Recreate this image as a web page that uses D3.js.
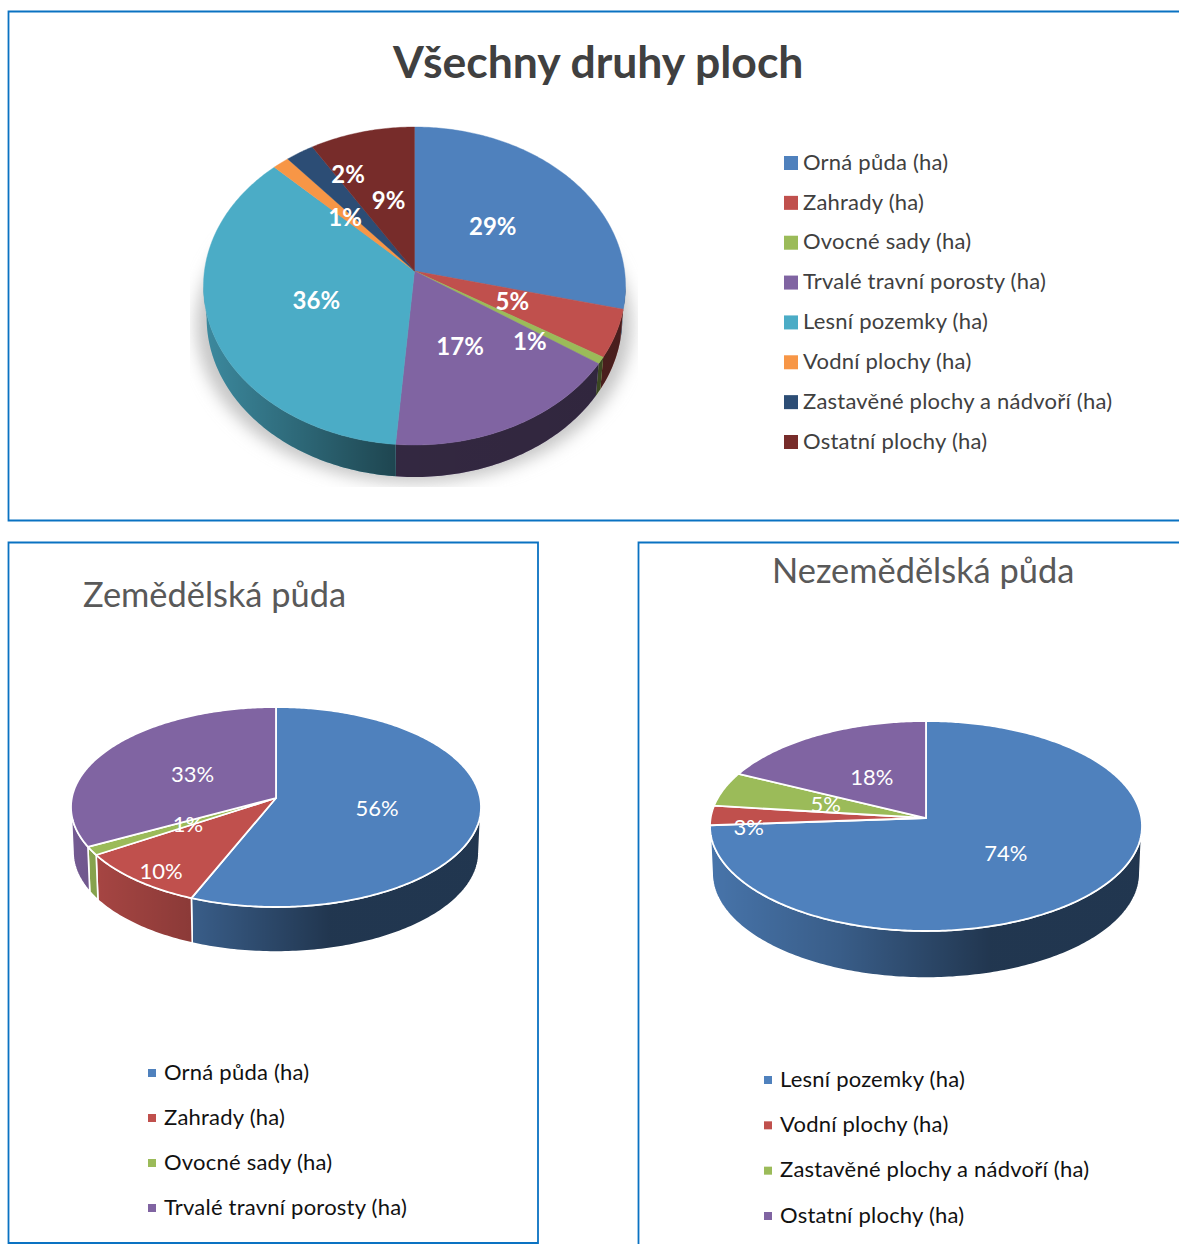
<!DOCTYPE html>
<html>
<head>
<meta charset="utf-8">
<script src="https://cdnjs.cloudflare.com/ajax/libs/d3/7.8.5/d3.min.js"></script>
<style>
  html, body { margin: 0; padding: 0; background: #fff; overflow: hidden; }
  text { font-family: Lato, "Open Sans", sans-serif; }
</style>
</head>
<body>
<div id="chart"></div>
<script>
// data
var allCategories = ["Orná půda (ha)", "Zahrady (ha)", "Ovocné sady (ha)", "Trvalé travní porosty (ha)",
  "Lesní pozemky (ha)", "Vodní plochy (ha)", "Zastavěné plochy a nádvoří (ha)", "Ostatní plochy (ha)"];
var allValues = [28.8, 4.9, 0.7, 16.9, 36.1, 1.4, 2.4, 8.8];
var allColors = ["#4f81bd", "#c0504d", "#9bbb59", "#8064a2", "#4bacc6", "#f79646", "#2c4d75", "#772c2a"];

var farmCategories = ["Orná půda (ha)", "Zahrady (ha)", "Ovocné sady (ha)", "Trvalé travní porosty (ha)"];
var farmValues = [56.2, 9.6, 1.4, 32.8];

var otherCategories = ["Lesní pozemky (ha)", "Vodní plochy (ha)", "Zastavěné plochy a nádvoří (ha)", "Ostatní plochy (ha)"];
var otherValues = [73.9, 3.0, 5.3, 17.8];

var smallColors = ["#4f81bd", "#c0504d", "#9bbb59", "#8064a2"];

var width = 1179, height = 1244;
var svg = d3.select("#chart").append("svg").attr("width", width).attr("height", height);
var defs = svg.append("defs");

// frames
var frameColor = "#0a72c2";
function frame(path) {
  svg.append("path").attr("d", path).attr("fill", "none").attr("stroke", frameColor).attr("stroke-width", 1.8);
}
frame("M1185,11.5H8.5V520.5H1185");
frame("M538,542.5H8.5V1243H538Z");
frame("M1185,542.5H638.5V1250");

var fmt = d3.format(".0%");

function drawPie(o) {
  var x = d3.scaleLinear().domain([-1, 1]).range([o.cx - o.rx, o.cx + o.rx]);
  var y = d3.scaleLinear().domain([-1, 1]).range([o.cy - o.ry, o.cy + o.ry]);
  var t = o.tilt, s = Math.sqrt(1 - t * t);
  var total = d3.sum(o.values);
  var arcs = d3.pie().sort(null)(o.values);
  var g = svg.append("g");

  // circle -> ellipse with the centre pushed back, like the perspective in the picture
  function proj(a, r) {
    var px = r * Math.sin(a), py = -r * Math.cos(a), w = 1 + t * py;
    return [x(px * s / w), y((py + t) / w)];
  }
  function lower(p, k) {
    return [o.cx + (p[0] - o.cx) * k, p[1] + o.depth];
  }
  var line = d3.line();

  // side shading: dark overlay left to right
  var gid = "shade" + o.id;
  var grad = defs.append("linearGradient").attr("id", gid).attr("gradientUnits", "userSpaceOnUse")
    .attr("x1", o.cx - o.rx).attr("x2", o.cx + o.rx).attr("y1", 0).attr("y2", 0);
  o.shade.forEach(function(d) {
    grad.append("stop").attr("offset", d[0]).attr("stop-color", "#000").attr("stop-opacity", d[1]);
  });

  // visible part of the rim runs between these two angles
  var a0 = Math.acos(t), a1 = 2 * Math.PI - a0;
  var sides = g.append("g");
  arcs.forEach(function(d, i) {
    var from = Math.max(d.startAngle, a0), to = Math.min(d.endAngle, a1);
    if (to <= from) return;
    var n = Math.max(2, Math.ceil((to - from) * 60));
    var top = d3.range(n + 1).map(function(k) { return proj(from + (to - from) * k / n, 1); });
    var pts = top.concat(top.slice().reverse().map(function(p) { return lower(p, o.shrink); }));
    var dd = line(pts) + "Z";
    sides.append("path").attr("d", dd).attr("fill", o.colors[i]);
    sides.append("path").attr("d", dd).attr("fill", "url(#" + gid + ")")
      .attr("stroke", o.edge || "none").attr("stroke-width", o.edge ? 1.6 : 0);
  });

  // top face
  arcs.forEach(function(d, i) {
    var n = Math.max(2, Math.ceil((d.endAngle - d.startAngle) * 80));
    var pts = d3.range(n + 1).map(function(k) {
      return proj(d.startAngle + (d.endAngle - d.startAngle) * k / n, 1);
    });
    pts.unshift(proj(0, 0));
    g.append("path").attr("d", line(pts) + "Z").attr("fill", o.colors[i])
      .attr("stroke", o.edge || o.colors[i]).attr("stroke-width", o.edge ? 1.8 : 0.4)
      .attr("stroke-linejoin", "round");
  });

  // labels sit on the slice's middle radius, a few pushed along it
  arcs.forEach(function(d, i) {
    var p = proj((d.startAngle + d.endAngle) / 2, o.labelR[i]);
    var nudge = o.labelNudge[i] || [0, 0];
    g.append("text").attr("x", p[0] + nudge[0]).attr("y", p[1] + nudge[1]).attr("dy", "0.36em")
      .attr("text-anchor", "middle").attr("fill", "#fff")
      .attr("font-size", o.labelSize).attr("font-weight", o.labelWeight)
      .text(fmt(d.value / total));
  });
}

function legend(names, colors, o) {
  var yScale = d3.scalePoint().domain(names).range([o.y0, o.y1]);
  names.forEach(function(name, i) {
    var yy = yScale(name);
    svg.append("rect").attr("x", o.x).attr("y", yy - o.box / 2).attr("width", o.box).attr("height", o.box)
      .attr("fill", colors[i]);
    svg.append("text").attr("x", o.tx).attr("y", yy - 1).attr("dy", "0.35em")
      .attr("font-size", o.size).attr("fill", o.color).style("letter-spacing", o.spacing)
      .text(name);
  });
}

function title(text, x, y, size, weight, color) {
  svg.append("text").attr("x", x).attr("y", y).attr("font-size", size).attr("font-weight", weight)
    .attr("fill", color).text(text);
}

// soft shadow under the big pie
var blur = defs.append("filter").attr("id", "soft").attr("x", "-20%").attr("y", "-20%").attr("width", "140%").attr("height", "140%");
blur.append("feGaussianBlur").attr("stdDeviation", 8);
defs.append("clipPath").attr("id", "shadowClip").append("rect")
  .attr("x", 190).attr("y", 200).attr("width", 448).attr("height", 287);
svg.append("g").attr("clip-path", "url(#shadowClip)").append("ellipse")
  .attr("cx", 414).attr("cy", 325).attr("rx", 218).attr("ry", 158)
  .attr("fill", "#c6c6c6").attr("filter", "url(#soft)");

drawPie({
  id: "all", cx: 414.5, cy: 286, rx: 211, ry: 159, tilt: -0.094, depth: 32, shrink: 0.985,
  values: allValues, colors: allColors,
  shade: [[0, 0.2], [0.46, 0.6], [1, 0.62]],
  labelR: [0.5, 0.5, 0.72, 0.5, 0.5, 0.48, 0.65, 0.47],
  labelNudge: [[-2, 3], [-1, 0], [-17, 7], [-2, 1], [2, 1], [-3, 0], [10, -18], [0, -2]],
  labelSize: 24, labelWeight: 700
});
drawPie({
  id: "farm", cx: 276, cy: 807, rx: 205, ry: 100, tilt: -0.09, depth: 45, shrink: 0.99, edge: "#fff",
  values: farmValues, colors: smallColors,
  shade: [[0, 0.1], [0.3, 0.28], [0.63, 0.58], [1, 0.58]],
  labelR: [0.5, 0.9, 0.5, 0.47],
  labelNudge: [null, [10, 0], [2, 0], [-3, 0]],
  labelSize: 22, labelWeight: 400
});
drawPie({
  id: "other", cx: 926, cy: 826, rx: 216, ry: 105, tilt: -0.076, depth: 47, shrink: 0.99, edge: "#fff",
  values: otherValues, colors: smallColors,
  shade: [[0, 0.1], [0.3, 0.28], [0.65, 0.58], [1, 0.58]],
  labelR: [0.5, 0.82, 0.48, 0.47],
  labelNudge: [[-1, -1], [-1, 11], [-2, 0], [-2, -1]],
  labelSize: 22, labelWeight: 400
});

title("Všechny druhy ploch", 393, 78, 44.5, 700, "#404040");
title("Zemědělská půda", 83, 607, 34.4, 400, "#595959");
title("Nezemědělská půda", 772, 583, 34.4, 400, "#595959");

legend(allCategories, allColors, { x: 784, tx: 803, y0: 163, y1: 442, box: 14, size: 22, color: "#404040", spacing: "0.22px" });
legend(farmCategories, smallColors, { x: 148, tx: 164, y0: 1073, y1: 1208, box: 8, size: 22, color: "#111", spacing: "0.22px" });
legend(otherCategories, smallColors, { x: 764, tx: 780, y0: 1080, y1: 1216, box: 8, size: 22, color: "#111", spacing: "0.22px" });
</script>
</body>
</html>
